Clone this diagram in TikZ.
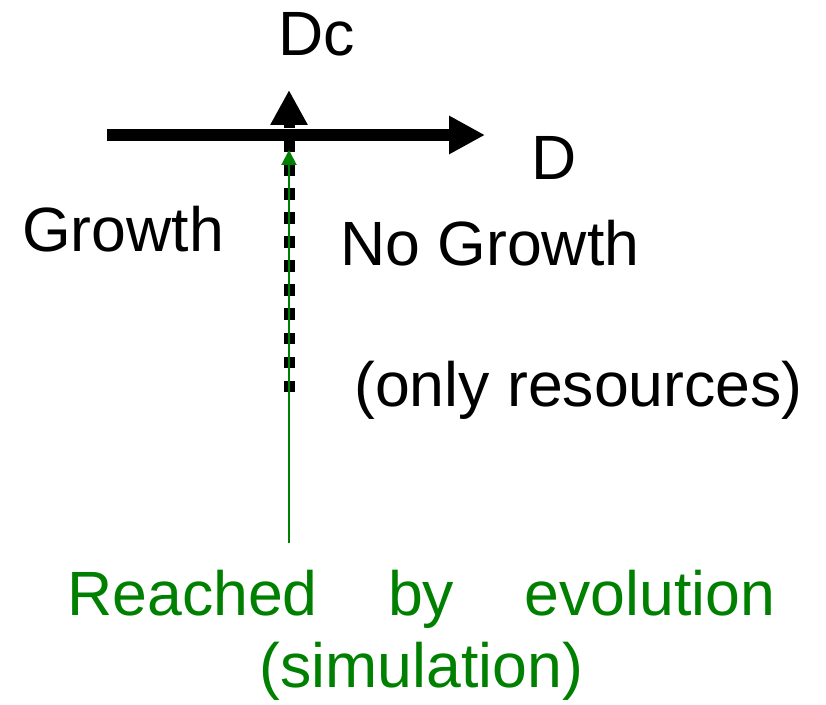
\documentclass[tikz,border=0pt]{standalone}
\usepackage{fontspec}
\setmainfont{Liberation Sans}
\usepackage{xcolor}
\usepackage{tikz}
\usetikzlibrary{arrows.meta,positioning,calc}
\definecolor{simgreen}{RGB}{0,128,0}

\begin{document}
\begin{tikzpicture}[
  lbl/.style={inner sep=0pt, anchor=base west, font=\fontsize{44.5}{51}\selectfont},
  axis/.style={line width=0.3cm, -{Triangle[length=0.9cm, width=0.9cm]}},
  critical/.style={line width=0.275cm, dash pattern=on 0.2875cm off 0.3125cm, -{Triangle[length=0.875cm, width=0.875cm]}},
  evolved/.style={simgreen, line width=1.4pt, -{Triangle[length=0.375cm, width=0.375cm]}}
]
\useasboundingbox (0,0) rectangle (20.65,17.6);

\coordinate (dstart) at (2.675,14.225);
\coordinate (dend) at (12.125,14.225);
\coordinate (dcstart) at (7.225,7.8);
\coordinate (dcend) at (7.225,15.35);
\coordinate (simstart) at (7.225,4.025);
\coordinate (simend) at (7.225,13.85);

\node[lbl] (dc) at (6.95,16.2) {Dc};
\node[lbl] (d) at (13.275,13.1) {D};
\node[lbl] (growth) at (0.55,11.3) {Growth};
\node[lbl] (nogrowth) at (8.5,10.975) {No Growth};
\node[lbl] (resources) at (8.85,7.45) {(only resources)};
\node[lbl, text=simgreen] (reached) at (1.675,2.225) {\hbox to 17.7cm{Reached\hfill by\hfill evolution}};
\node[lbl, text=simgreen, anchor=base] (simulation) at ($(reached.base)+(0,-1.8)$) {(simulation)};

\draw[axis] (dstart) -- (dend);
\draw[critical] (dcstart) -- (dcend);
\draw[evolved] (simstart) -- (simend);
\end{tikzpicture}
\end{document}
